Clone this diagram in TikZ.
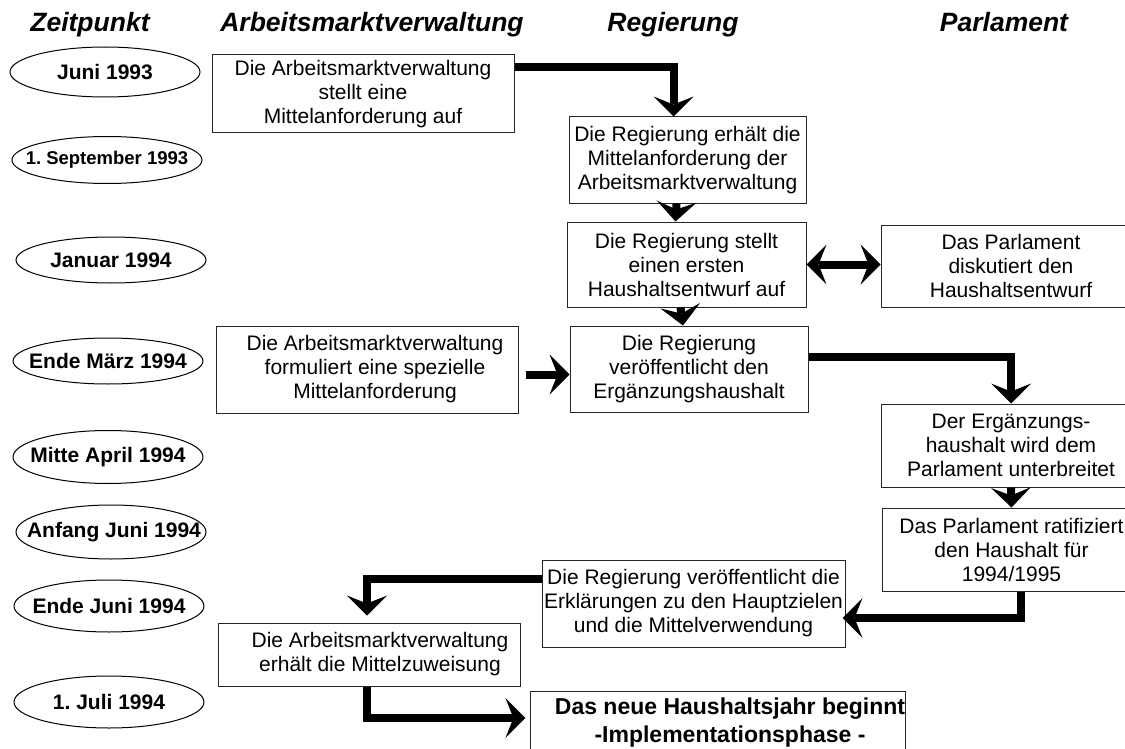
\documentclass[tikz,border=0pt]{standalone}
\usepackage{fontspec}
\setmainfont{Liberation Sans}
\usetikzlibrary{arrows.meta,shapes.geometric}

\begin{document}
\begin{tikzpicture}[x=1pt,y=-1pt,
    >={Stealth[length=20pt,width=40pt,inset=8pt,line width=0pt]},
    head/.style={anchor=base,font=\fontsize{26.5}{30}\selectfont\bfseries\itshape},
    date/.style={draw,line width=1pt,ellipse,minimum width=190pt,minimum height=50pt,inner sep=0pt},
    datetext/.style={font=\fontsize{21}{24}\selectfont\bfseries\frenchspacing},
    stepbox/.style={draw=black!85,line width=1pt,align=center,inner sep=0pt,
        font=\fontsize{21}{24}\selectfont},
    flow/.style={line width=8pt,line join=miter,->}]
\clip (0,0) rectangle (1125,749);

\node[head] (hzeit) at (90,32) {Zeitpunkt};
\node[head] (hamv) at (372,32) {Arbeitsmarktverwaltung};
\node[head] (hreg) at (673,32) {Regierung};
\node[head] (hparl) at (1004,32) {Parlament};

\node[date,label={[datetext]center:Juni 1993}] (d1) at (105,72) {};
\node[date,minimum height=47pt,label={[datetext,font=\fontsize{18.5}{22}\selectfont\bfseries\frenchspacing]center:1. September 1993}] (d2) at (107,160) {};
\node[date,minimum height=46pt,label={[datetext]center:Januar 1994}] (d3) at (111,260) {};
\node[date,minimum height=46pt,label={[datetext]center:Ende März 1994}] (d4) at (108,361) {};
\node[date,minimum height=53pt,label={[datetext]center:Mitte April 1994}] (d5) at (108,457) {};
\node[date,minimum height=54pt,label={[datetext,xshift=3pt]center:Anfang Juni 1994}] (d6) at (111,532) {};
\node[date,minimum height=52pt,label={[datetext]center:Ende Juni 1994}] (d7) at (109,606) {};
\node[date,minimum height=52pt,label={[datetext]center:1. Juli 1994}] (d8) at (109,702) {};

\node[stepbox,minimum width=302pt,minimum height=78pt] (amv1) at (363,94)
    {Die Arbeitsmarktverwaltung\\stellt eine\\Mittelanforderung auf};
\node[stepbox,minimum width=237pt,minimum height=86pt] (reg1) at (687.5,160)
    {Die Regierung erhält die\\Mittelanforderung der\\Arbeitsmarktverwaltung};
\node[stepbox,minimum width=239pt,minimum height=85pt] (reg2) at (686.5,264.5)
    {Die Regierung stellt\\einen ersten\\Haushaltsentwurf auf};
\node[stepbox,minimum width=260pt,minimum height=82pt] (parl1) at (1011,266)
    {Das Parlament\\diskutiert den\\Haushaltsentwurf};
\node[stepbox,minimum width=302pt,minimum height=87pt] (amv2) at (367,369.5)
    {\hspace*{16pt}Die Arbeitsmarktverwaltung\\\hspace*{16pt}formuliert eine spezielle\\\hspace*{16pt}Mittelanforderung};
\node[stepbox,minimum width=238pt,minimum height=86pt] (reg3) at (689,369)
    {Die Regierung\\veröffentlicht den\\Ergänzungshaushalt};
\node[stepbox,minimum width=260pt,minimum height=83pt] (parl2) at (1011,445.5)
    {Der Ergänzungs-\\haushalt wird dem\\Parlament unterbreitet};
\node[stepbox,minimum width=259pt,minimum height=83pt] (parl3) at (1011.5,549.5)
    {Das Parlament ratifiziert\\den Haushalt für\\1994/1995};
\node[stepbox,minimum width=303pt,minimum height=87pt] (reg4) at (693.5,603.5)
    {Die Regierung veröffentlicht die\\Erklärungen zu den Hauptzielen\\und die Mittelverwendung};
\node[stepbox,minimum width=302pt,minimum height=63pt] (amv3) at (369,654.5)
    {\hspace*{22pt}Die Arbeitsmarktverwaltung\\\hspace*{22pt}erhält die Mittelzuweisung};
\node[stepbox,minimum width=370pt,minimum height=64pt,
    font=\fontsize{23}{28}\selectfont\bfseries] (start) at (718,723)
    {\hspace*{24pt}Das neue Haushaltsjahr beginnt\\\hspace*{24pt}-Implementationsphase -};

\draw[flow] ([yshift=27pt]amv1.east) -| ([xshift=-14pt]reg1.north);
\draw[flow] ([xshift=-11pt]reg1.south) -- ([xshift=-11pt]reg2.north);
\draw[flow] ([xshift=-6pt]reg2.south) -- ([xshift=-6pt]reg3.north);
\draw[flow,<->] (reg2.east) -- (reg2.east -| parl1.west);
\draw[flow,shorten <=7pt] ([yshift=-5pt]amv2.east) -- ([yshift=-5pt]amv2.east -| reg3.west);
\draw[flow] ([yshift=12pt]reg3.east) -| (parl2.north);
\draw[flow] (parl2.south) -- (parl3.north);
\draw[flow,shorten >=-3pt] ([xshift=9pt]parl3.south) |- ([yshift=-14.5pt]reg4.east);
\draw[flow,shorten >=7pt] ([yshift=24.5pt]reg4.west) -| ([xshift=-2pt]amv3.north);
\draw[flow,shorten >=5pt] ([xshift=-2pt]amv3.south) |- ([yshift=5pt]start.west);
\end{tikzpicture}
\end{document}
